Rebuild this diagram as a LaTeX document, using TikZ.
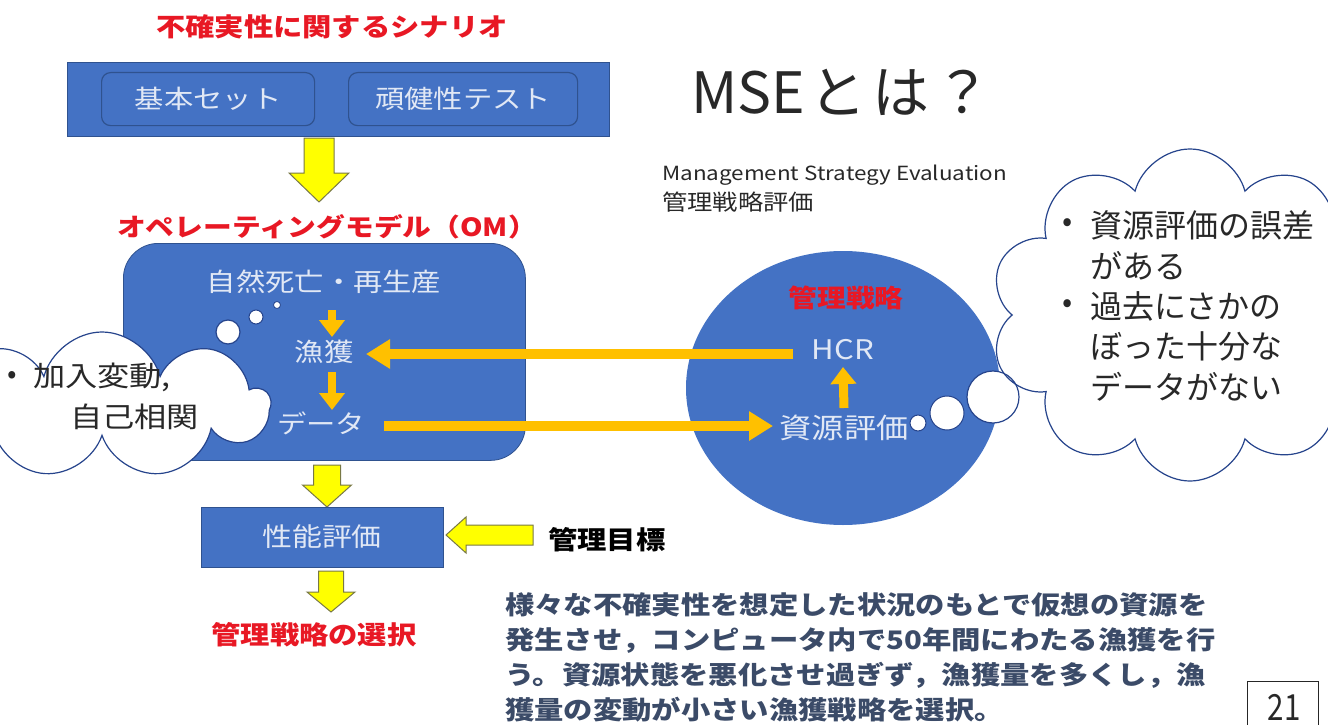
\documentclass[tikz,border=0pt]{standalone}
\usepackage{fontspec}
\setmainfont{Noto Sans CJK JP}
\newfontfamily\wj{Noto Sans CJK JP}[FakeStretch=1.15]
\newfontfamily\nj{Noto Sans CJK JP}[FakeStretch=0.82]
\usetikzlibrary{shapes.geometric,shapes.symbols,arrows.meta,calc}
\newcommand\fsz[1]{\fontsize{#1}{#1}\selectfont}
\definecolor{sblue}{RGB}{68,114,196}
\definecolor{sblueD}{RGB}{47,82,143}
\definecolor{sred}{RGB}{232,24,36}
\definecolor{syel}{RGB}{255,255,0}
\definecolor{syelD}{RGB}{120,120,70}
\definecolor{sorg}{RGB}{255,192,0}
\definecolor{stxt}{RGB}{225,232,245}
\definecolor{slate}{RGB}{59,75,104}
\definecolor{cloudc}{RGB}{38,68,140}
\definecolor{dtxt}{RGB}{40,40,40}
\newcommand\yarrowdown[6]{%
  \draw[yarrow] (#1-#5,#2) -- (#1+#5,#2) -- (#1+#5,#3) -- (#1+#6,#3) -- (#1,#4)
    -- (#1-#6,#3) -- (#1-#5,#3) -- cycle;}
\begin{document}
\begin{tikzpicture}[x=1pt,y=-1pt,
  every node/.style={inner sep=0pt},
  redt/.style={text=sred,font=\wj\bfseries\fsz{25.5}},
  intext/.style={text=stxt,font=\wj\fsz{25.5}},
  yarrow/.style={fill=syel,draw=syelD,line width=1pt,line join=miter},
  obig/.style={draw=sorg,line width=10pt,-{Triangle[width=28pt,length=24pt]}},
  osmall/.style={draw=sorg,line width=8pt,-{Triangle[width=25pt,length=17pt]}},
  innerbox/.style={draw=sblueD,line width=1.2pt,rounded corners=9pt,fill=sblue},
  cloudtxt/.style={text=dtxt}]
\useasboundingbox (0,0) rectangle (1328,725);
\fill[white] (0,0) rectangle (1328,725);

% --- scenario block
\node[redt] (title) at (332,27) {不確実性に関するシナリオ};
\node[fill=sblue,draw=sblueD,line width=0.8pt,minimum width=542,minimum height=74,anchor=north west] (scen) at (67,62) {};
\node[innerbox,minimum width=213,minimum height=53,anchor=north west,intext] (kihon) at (101,72) {基本セット};
\node[innerbox,minimum width=229,minimum height=53,anchor=north west,intext] (ganken) at (348,72) {頑健性テスト};
\yarrowdown{319}{138}{173}{202}{15}{30}

% --- operating model
\node[redt,font=\wj\bfseries\fsz{25}] (omlabel) at (327,227) {オペレーティングモデル（OM）};
\node[fill=sblue,draw=sblueD,line width=0.8pt,rounded corners=35pt,minimum width=402,minimum height=217,anchor=north west] (om) at (123,243) {};
\node[intext] (shizen) at (324,282) {自然死亡・再生産};
\node[intext] (gyo) at (324,352) {漁獲};
\node[intext] (data) at (321,423) {データ};
\draw[osmall] ($(shizen.center)+(8,28)$) -- ($(gyo.center)+(8,-15)$);
\draw[osmall] ($(gyo.center)+(8,20)$) -- ($(data.center)+(11,-13)$);

% --- management strategy ellipse
\node[ellipse,fill=sblue,minimum width=314,minimum height=274] (ms) at (843,388) {};
\node[redt,font=\wj\bfseries\fsz{25}] (msl) at (846,298) {管理戦略};
\node[intext,font=\wj\fsz{27}] (hcr) at (843,350) {HCR};
\node[intext,font=\wj\fsz{28}] (shigen) at (844,428) {資源評価};
\draw[osmall,line width=9pt] ($(shigen.center)+(0,-20)$) -- ($(hcr.center)+(0,17)$);
\draw[obig] ($(hcr.center)+(-50,4)$) -- ($(gyo.center)+(42,2)$);
\draw[obig] ($(data.center)+(63,3)$) -- ($(shigen.center)+(-71,-2)$);

% --- left thought cloud
\node[cloud,cloud puffs=9,cloud ignores aspect,draw=cloudc,fill=white,line width=1.2pt,
  minimum width=335,minimum height=146] (lcloud) at (102,405) {};
\fill[white,draw=cloudc,line width=1.2pt] (228,332) circle[radius=12pt];
\fill[white,draw=cloudc,line width=1pt] (256,317) circle[radius=7pt];
\fill[white,draw=cloudc,line width=0.8pt] (277,305) circle[radius=3.5pt];
\node[cloudtxt,font=\fsz{28}] (lb) at (12,377) {•};
\node[cloudtxt,font=\wj\fsz{28},anchor=west] (lt1) at (33,377) {加入変動,};
\node[cloudtxt,font=\wj\fsz{28},anchor=west] (lt2) at (70,417) {自己相関};

% --- right thought cloud
\fill[white] (993,397) circle[radius=26pt];
\node[cloud,cloud puffs=10,cloud ignores aspect,draw=cloudc,fill=white,line width=1.2pt,
  minimum width=400,minimum height=332] (rcloud) at (1190,315) {};
\draw[cloudc,line width=1.2pt] (993,397) circle[radius=26pt];
\fill[white,draw=cloudc,line width=1pt] (947,413) circle[radius=17pt];
\fill[white,draw=cloudc,line width=1pt] (918,423) circle[radius=8pt];
\node[cloudtxt,font=\fsz{30}] (rb1) at (1068,225) {•};
\node[cloudtxt,font=\fsz{30}] (rb2) at (1068,306) {•};
\node[cloudtxt,font=\fsz{32},anchor=west] (rt1) at (1090,225) {資源評価の誤差};
\node[cloudtxt,font=\fsz{32},anchor=west] (rt2) at (1090,265.5) {がある};
\node[cloudtxt,font=\fsz{32},anchor=west] (rt3) at (1090,306) {過去にさかの};
\node[cloudtxt,font=\fsz{32},anchor=west] (rt4) at (1090,346.5) {ぼった十分な};
\node[cloudtxt,font=\fsz{32},anchor=west] (rt5) at (1090,387) {データがない};

% --- performance evaluation
\yarrowdown{327}{465}{485}{507}{13.5}{24.5}
\node[fill=sblue,draw=sblueD,line width=0.8pt,minimum width=242,minimum height=60,intext,font=\wj\fsz{26}] (perf) at (322,537) {性能評価};
\draw[yarrow] (446,535) -- (466,517) -- (466,525) -- (533,525) -- (533,545) -- (466,545) -- (466,553) -- cycle;
\node[anchor=west,font=\wj\bfseries\fsz{25.5},text=black] (goal) at (548,540) {管理目標};
\yarrowdown{331}{571}{592}{612}{12.5}{24}
\node[redt] (choice) at (314,635) {管理戦略の選択};

% --- heading
\node[anchor=base west,font=\fsz{57},text=dtxt] (mse) at (691,113) {MSE\hspace{5pt}と\hspace{5pt}は\hspace{5pt}？};
\node[anchor=base west,font=\wj\fsz{19.5},text=dtxt] (mgmt) at (662,180) {Management Strategy Evaluation};
\node[anchor=west,font=\wj\fsz{22},text=dtxt] (kanri) at (662,202) {管理戦略評価};

% --- paragraph
\node[anchor=base west,font=\wj\bfseries\fsz{25.5},text=slate] (p1) at (505,614) {様々な不確実性を想定した状況のもとで仮想の資源を};
\node[anchor=base west,font=\wj\bfseries\fsz{25.5},text=slate] (p2) at (505,649) {発生させ，コンピュータ内で50年間にわたる漁獲を行};
\node[anchor=base west,font=\wj\bfseries\fsz{25.5},text=slate] (p3) at (505,684) {う。資源状態を悪化させ過ぎず，漁獲量を多くし，漁};
\node[anchor=base west,font=\wj\bfseries\fsz{25.5},text=slate] (p4) at (505,719) {獲量の変動が小さい漁獲戦略を選択。};

% --- page number
\node[draw=black!85,line width=1pt,minimum width=71,minimum height=50,anchor=north west] (pgbox) at (1247,681) {};
\node[anchor=base,font=\nj\fsz{36},text=dtxt] (pgnum) at (1284,720) {21};
\end{tikzpicture}
\end{document}
